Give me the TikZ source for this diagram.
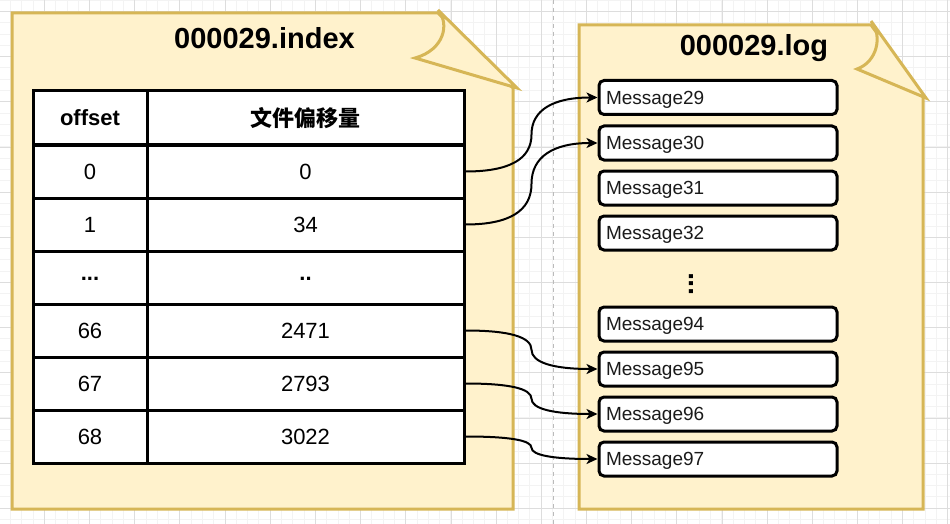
\documentclass[tikz,border=0pt]{standalone}
\usepackage{fontspec}
\setmainfont{Liberation Sans}
\newfontfamily\cjk{Noto Sans CJK SC}
\usetikzlibrary{arrows.meta,calc}
\definecolor{docfill}{HTML}{FFF2CC}
\definecolor{docline}{HTML}{D6B656}
\definecolor{gminor}{HTML}{F3F3F3}
\definecolor{gmajor}{HTML}{DDDDDD}
\definecolor{dashc}{HTML}{BBBBBB}
\definecolor{msgtext}{HTML}{1A1A1A}
\newcommand\linkto[2]{%
  \path (#1) -- coordinate[pos=0.5] (cm) (#2);
  \coordinate (ca) at (#1 -| cm);
  \coordinate (cb) at (#2 -| cm);
  \draw[conn] (#1) .. controls ($(#1)!0.6667!(ca)$) and ($(cm)!0.6667!(ca)$) .. (cm)
    .. controls ($(cm)!0.6667!(cb)$) and ($(#2)!0.6667!(cb)$) .. (#2);
}
\begin{document}
\begin{tikzpicture}[x=1pt,y=-1pt,
  doc/.style={fill=docfill,draw=docline,line width=3pt,line join=miter},
  cell/.style={draw=black,line width=3pt,fill=white,inner sep=0pt,font=\fontsize{22}{26}\selectfont},
  lcell/.style={cell,minimum width=114pt,minimum height=53pt},
  rcell/.style={cell,minimum width=317pt,minimum height=53pt},
  msg/.style={draw=black,line width=3pt,fill=white,rounded corners=5pt,minimum height=34pt,text width=224pt,inner xsep=7pt,inner ysep=0pt,text depth=0pt,align=left,text=msgtext,font=\fontsize{19}{22}\selectfont},
  conn/.style={line width=2pt,-{Stealth[length=11pt,width=10pt,inset=3pt]}},
  title/.style={font=\fontsize{29}{34}\selectfont\bfseries}
]
\useasboundingbox (0,0) rectangle (950,524);
\fill[white] (0,0) rectangle (950,524);
% grid
\foreach \i in {0,...,84} \draw[gminor,line width=1pt] ({-0.7+11.29*\i},0) -- ++(0,524);
\foreach \i in {0,...,46} \draw[gminor,line width=1pt] (0,{0.2+11.29*\i}) -- ++(950,0);
\foreach \i in {0,...,21} \draw[gmajor,line width=1pt] ({-0.7+45.17*\i},0) -- ++(0,524);
\foreach \i in {0,...,11} \draw[gmajor,line width=1pt] (0,{11.5+45.17*\i}) -- ++(950,0);
\draw[dashc,line width=1pt,dash pattern=on 4pt off 4pt] (553,0) -- (553,524);
% left document
\draw[doc] (12,13) -- (438,13) -- (513,88) -- (513,509) -- (12,509) -- cycle;
\draw[doc] (438,10) .. controls (450,24) and (444,50) .. (415,58) -- (517,88) -- cycle;
% right document
\draw[doc] (579,25) -- (871,25) -- (923,95) -- (923,509) -- (579,509) -- cycle;
\draw[doc] (871,21) .. controls (883,36) and (877,62) .. (857,69) -- (926,98) -- cycle;
% titles
\node[title] (t1) at (264.5,38) {000029.index};
\node[title] (t2) at (754,48) {000029.log};
% table
\node[lcell,minimum height=54pt] (h0) at (90,118) {\bfseries offset};
\node[rcell,minimum height=54pt] (h1) at (305.5,118) {\cjk\bfseries 文件偏移量};
\node[lcell] (c00) at (90,171.5) {0};
\node[rcell] (c01) at (305.5,171.5) {0};
\node[lcell] (c10) at (90,224.5) {1};
\node[rcell] (c11) at (305.5,224.5) {34};
\node[lcell] (c20) at (90,277.5) {\raisebox{-5pt}{\bfseries ...}};
\node[rcell] (c21) at (305.5,277.5) {\raisebox{-5pt}{\bfseries ..}};
\node[lcell] (c30) at (90,330.5) {66};
\node[rcell] (c31) at (305.5,330.5) {2471};
\node[lcell] (c40) at (90,383.5) {67};
\node[rcell] (c41) at (305.5,383.5) {2793};
\node[lcell] (c50) at (90,436.5) {68};
\node[rcell] (c51) at (305.5,436.5) {3022};
% messages
\node[msg] (m29) at (718,97.5) {Message29};
\node[msg] (m30) at (718,143) {Message30};
\node[msg] (m31) at (718,188) {Message31};
\node[msg] (m32) at (718,233) {Message32};
\node[font=\fontsize{28}{30}\selectfont\bfseries,rotate=90,inner sep=0pt] (vd) at (691,284) {...};
\node[msg] (m94) at (718,324) {Message94};
\node[msg] (m95) at (718,369) {Message95};
\node[msg] (m96) at (718,414) {Message96};
\node[msg] (m97) at (718,459) {Message97};
% connectors
\linkto{c01.east}{m29.west}
\linkto{c11.east}{m30.west}
\linkto{c31.east}{m95.west}
\linkto{c41.east}{m96.west}
\linkto{c51.east}{m97.west}
\end{tikzpicture}
\end{document}
